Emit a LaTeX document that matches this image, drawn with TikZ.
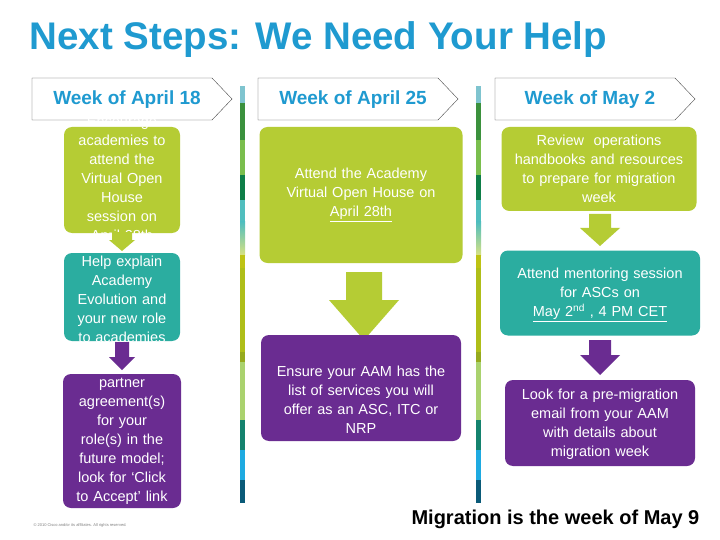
\documentclass[tikz,border=0pt]{standalone}
\usepackage{fontspec}
\setmainfont{Liberation Sans}
\definecolor{ttl}{HTML}{1F9AD0}
\definecolor{lg}{HTML}{B5CC34}
\definecolor{tl}{HTML}{2BADA0}
\definecolor{pp}{HTML}{6A2C91}
\tikzset{
 box/.style={rounded corners=8pt,text=white,align=center,font=\fontsize{14.5}{19}\selectfont,inner sep=0pt}
}
% \dnarrow{color}{cx}{shaft half}{head half}{top}{shaft bottom}{tip}
\newcommand{\dnarrow}[7]{\fill[#1] (#2-#3,#5) -- (#2+#3,#5) -- (#2+#3,#6) -- (#2+#4,#6) -- (#2,#7) -- (#2-#4,#6) -- (#2-#3,#6) -- cycle;}
\begin{document}
\begin{tikzpicture}[x=1pt,y=-1pt]
\useasboundingbox (0,0) rectangle (720,540);
\fill[white] (0,0) rectangle (720,540);
\node[text=ttl,font=\bfseries\fontsize{38.5}{42}\selectfont,anchor=west] (title) at (26,40) {Next Steps: We Need Your Help};
% headers
\foreach \n/\x/\t in {h1/32/Week of April 18,h2/258/Week of April 25,h3/495/Week of May 2}{
 \draw[black!70,fill=white] (\x,78) -- (\x+180,78) -- (\x+200,99) -- (\x+180,120) -- (\x,120) -- cycle;
 \node[text=ttl,font=\bfseries\fontsize{19}{22}\selectfont] (\n) at (\x+95,100) {\t};
}
% bars
\foreach \bx in {240,476}{
\fill[color={rgb,255:red,127;green,196;blue,207}] (\bx,86) rectangle (\bx+5,103);
\fill[color={rgb,255:red,59;green,145;blue,61}] (\bx,103) rectangle (\bx+5,140);
\fill[color={rgb,255:red,122;green,190;blue,77}] (\bx,140) rectangle (\bx+5,175);
\fill[color={rgb,255:red,14;green,126;blue,72}] (\bx,175) rectangle (\bx+5,200);
\fill[color={rgb,255:red,80;green,190;blue,190}] (\bx,200) rectangle (\bx+5,222);
\shade[top color={rgb,255:red,80;green,190;blue,190},bottom color={rgb,255:red,215;green,225;blue,130}] (\bx,222) rectangle (\bx+5,255);
\fill[color={rgb,255:red,190;green,195;blue,20}] (\bx,255) rectangle (\bx+5,268);
\fill[color={rgb,255:red,175;green,190;blue,25}] (\bx,268) rectangle (\bx+5,352);
\fill[color={rgb,255:red,150;green,170;blue,30}] (\bx,352) rectangle (\bx+5,362);
\fill[color={rgb,255:red,170;green,210;blue,110}] (\bx,362) rectangle (\bx+5,420);
\fill[color={rgb,255:red,20;green,130;blue,110}] (\bx,420) rectangle (\bx+5,450);
\fill[color={rgb,255:red,30;green,170;blue,225}] (\bx,450) rectangle (\bx+5,480);
\fill[color={rgb,255:red,10;green,90;blue,120}] (\bx,480) rectangle (\bx+5,503);
}
% left column
\node[box,fill=lg,minimum width=116pt,minimum height=106pt] (a1) at (122,180) {};
\node[box,text width=114pt] (a1t) at (122,180) {Encourage\\academies to\\attend the\\Virtual Open\\House\\session on\\April 28th};
\dnarrow{lg}{122}{10}{13}{232}{240}{251}
\node[box,fill=tl,minimum width=116pt,minimum height=88pt] (a2) at (122,297) {};
\node[box,text width=114pt] (a2t) at (122,299) {Help explain\\Academy\\Evolution and\\your new role\\to academies};
\dnarrow{pp}{122}{7}{13}{342}{357}{370}
\node[box,fill=pp,minimum width=118pt,minimum height=134pt] (a3) at (122,441) {};
\node[box,text width=114pt] (a3t) at (122,441) {partner\\agreement(s)\\for your\\role(s) in the\\future model;\\look for ‘Click\\to Accept’ link};
% middle
\node[box,fill=lg,minimum width=203pt,minimum height=136pt] (b1) at (361,195) {};
\node[box,text width=200pt] (b1t) at (361,195) {Attend the Academy\\Virtual Open House on\\\underline{April 28th}};
\dnarrow{lg}{364}{18}{35}{272}{300}{340}
\node[box,fill=pp,minimum width=200pt,minimum height=106pt] (b2) at (361,388) {};
\node[box,text width=200pt] (b2t) at (361,400) {Ensure your AAM has the\\list of services you will\\offer as an ASC, ITC or\\NRP};
% right
\node[box,fill=lg,minimum width=195pt,minimum height=84pt] (c1) at (599,169) {};
\node[box,text width=195pt] (c1t) at (599,169) {Review\ \ operations\\handbooks and resources\\to prepare for migration\\week};
\dnarrow{lg}{600}{11}{20}{214}{228}{246}
\node[box,fill=tl,minimum width=200pt,minimum height=85pt] (c2) at (600,293) {};
\node[box,text width=200pt] (c2t) at (600,295) {Attend mentoring session\\for ASCs on\\\underline{May 2\textsuperscript{nd} , 4 PM CET}};
\dnarrow{pp}{600}{11}{20}{340}{355}{375}
\node[box,fill=pp,minimum width=190pt,minimum height=86pt] (c3) at (600,423) {};
\node[box,text width=190pt] (c3t) at (600,424) {Look for a pre-migration\\email from your AAM\\with details about\\migration week};
\node[font=\bfseries\fontsize{20}{23}\selectfont,anchor=west] (mig) at (408,519) {Migration is the week of May 9};
\node[font=\fontsize{4}{5}\selectfont,text=black!50,anchor=west] (copy) at (30,525) {© 2010 Cisco and/or its affiliates. All rights reserved.};
\end{tikzpicture}
\end{document}
